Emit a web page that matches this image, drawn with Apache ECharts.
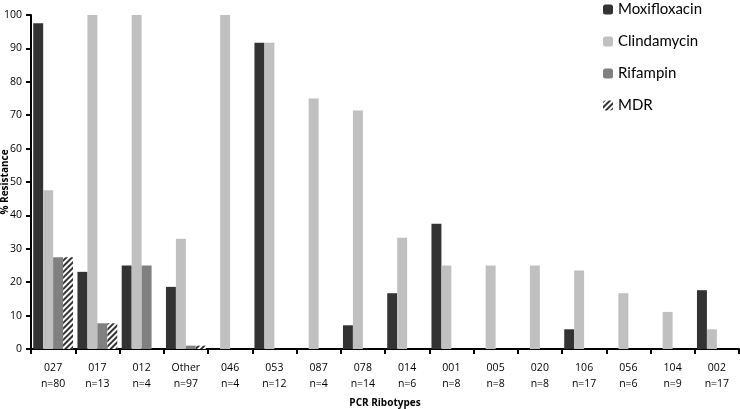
<!DOCTYPE html>
<html>
<head>
<meta charset="utf-8">
<script src="https://cdn.jsdelivr.net/npm/echarts@6/dist/echarts.min.js"></script>
<style>
  html, body { margin: 0; padding: 0; background: #fff; }
  #chart { width: 740px; height: 409px; }
</style>
</head>
<body>
<div id="chart"></div>
<script>
// PCR ribotypes and sample counts
const ribotypes = ['027', '017', '012', 'Other', '046', '053', '087', '078', '014', '001', '005', '020', '106', '056', '104', '002']
const counts = [80, 13, 4, 97, 4, 12, 4, 14, 6, 8, 8, 8, 17, 6, 9, 17]

// % resistance per antibiotic
const moxifloxacin = [97.5, 23.1, 25, 18.6, 0, 91.7, 0, 7.1, 16.7, 37.5, 0, 0, 5.9, 0, 0, 17.6]
const clindamycin = [47.5, 100, 100, 33.0, 100, 91.7, 75, 71.4, 33.3, 25, 25, 25, 23.5, 16.7, 11.1, 5.9]
const rifampin = [27.5, 7.7, 25, 1.0, 0, 0, 0, 0, 0, 0, 0, 0, 0, 0, 0, 0]
const mdr = [27.5, 7.7, 0, 1.0, 0, 0, 0, 0, 0, 0, 0, 0, 0, 0, 0, 0]

const yTicks = { min: 0, max: 100, interval: 10 }

const labelFont = 'Open Sans'
const chart = echarts.init(document.getElementById('chart'), null, { renderer: 'canvas' })

const barSeries = (name, data, itemStyle) => ({
  name,
  type: 'bar',
  data,
  barGap: '0%',
  barCategoryGap: '10%',
  itemStyle
})

chart.setOption({
  animation: false,
  grid: { left: 31, right: 1, top: 15, bottom: 60, outerBoundsMode: 'none', containLabel: false },
  legend: {
    orient: 'vertical',
    left: 598,
    top: -3,
    itemWidth: 10,
    itemHeight: 10,
    itemGap: 17,
    textStyle: { fontFamily: 'Lato', fontSize: 15, color: '#000' },
    data: ['Moxifloxacin', 'Clindamycin', 'Rifampin', 'MDR']
  },
  xAxis: {
    type: 'category',
    data: ribotypes.map((r, i) => r + '\nn=' + counts[i]),
    name: 'PCR Ribotypes',
    nameLocation: 'middle',
    nameGap: 49,
    nameMoveOverlap: false,
    nameTextStyle: { fontFamily: labelFont, fontSize: 10, fontWeight: 'bold', color: '#000' },
    axisLine: { lineStyle: { color: '#000', width: 2 } },
    axisTick: { show: true, length: 5, interval: 0, lineStyle: { color: '#000', width: 2 } },
    axisLabel: { interval: 0, margin: 11, lineHeight: 16, fontFamily: labelFont, fontSize: 10.5, color: '#000' }
  },
  yAxis: {
    type: 'value',
    min: yTicks.min,
    max: yTicks.max,
    interval: yTicks.interval,
    name: '% Resistance',
    nameLocation: 'middle',
    nameGap: 21,
    nameMoveOverlap: false,
    nameTextStyle: { fontFamily: labelFont, fontSize: 10, fontWeight: 'bold', color: '#000' },
    axisLine: { show: true, lineStyle: { color: '#000', width: 2 } },
    axisTick: { show: true, length: 5, lineStyle: { color: '#000', width: 2 } },
    axisLabel: { margin: 9, fontFamily: labelFont, fontSize: 10.5, color: '#000' },
    splitLine: { show: false }
  },
  series: [
    barSeries('Moxifloxacin', moxifloxacin, { color: '#333333' }),
    barSeries('Clindamycin', clindamycin, { color: '#c0c0c0' }),
    barSeries('Rifampin', rifampin, { color: '#808080' }),
    barSeries('MDR', mdr, {
      color: '#ffffff',
      decal: {
        symbol: 'rect',
        symbolSize: 1,
        dashArrayX: [1, 0],
        dashArrayY: [2, 1.5],
        rotation: -Math.PI / 4,
        color: '#333333'
      }
    })
  ]
})
</script>
</body>
</html>
